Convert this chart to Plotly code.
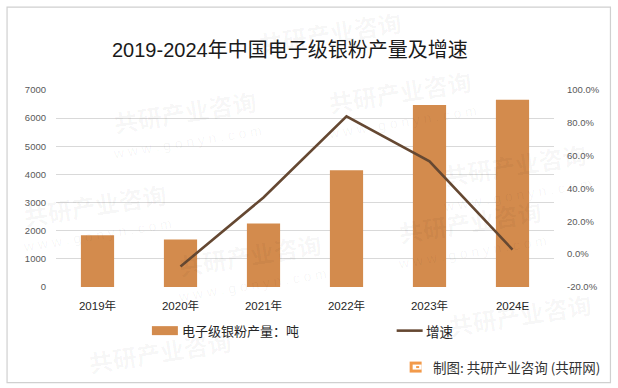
import plotly.graph_objects as go

categories = ["2019年", "2020年", "2021年", "2022年", "2023年", "2024E"]
output_tons = [1840, 1690, 2260, 4150, 6470, 6650]
growth_cats = ["2020年", "2021年", "2022年", "2023年", "2024E"]
growth_pct = [-7.5, 34.5, 84.0, 56.5, 2.8]
left_ticks = [0, 1000, 2000, 3000, 4000, 5000, 6000, 7000]
right_ticks = [-20, 0, 20, 40, 60, 80, 100]

W, H = 618, 388
BAR = "#D38B4D"
LINE = "#654832"
FONT = "Liberation Sans, Noto Sans CJK SC, sans-serif"
CJK = "Noto Sans CJK SC"

# plot area in pixel coords
PL, PR, PT, PB = 56, 554.5, 90, 287.3
l, t, r, b = PL, PT, W - PR, H - PB

fig = go.Figure()
fig.add_trace(go.Bar(x=categories, y=output_tons, marker=dict(color=BAR, line=dict(width=0)),
                     width=0.4, name="电子级银粉产量：吨", showlegend=False, yaxis="y"))
fig.add_trace(go.Scatter(x=growth_cats, y=growth_pct, mode="lines",
                         line=dict(color=LINE, width=2.6), name="增速", showlegend=False, yaxis="y2"))

fig.update_layout(
    width=W, height=H,
    margin=dict(l=l, r=r, t=t, b=b, pad=0),
    paper_bgcolor="white", plot_bgcolor="rgba(0,0,0,0)",
    font=dict(family=FONT, color="#595959"),
    xaxis=dict(type="category", categoryorder="array", categoryarray=categories,
               showgrid=False, showline=False, ticks="", zeroline=False,
               tickfont=dict(size=11.5, color="#262626"), ticklabelstandoff=10),
    yaxis=dict(range=[0, 7000], tickvals=left_ticks, showgrid=True, gridcolor="#D9D9D9",
               gridwidth=1, zeroline=False, showline=False, ticks="",
               tickfont=dict(size=9.5, color="#595959"), ticklabelstandoff=9),
    yaxis2=dict(range=[-20, 100], tickvals=right_ticks, overlaying="y", side="right",
                showgrid=False, zeroline=False, showline=False, ticks="",
                ticktext=[f"{v:.1f}%" for v in right_ticks],
                tickmode="array",
                tickfont=dict(size=9.5, color="#595959"), ticklabelstandoff=12),
    showlegend=False,
)


def px(x):
    return (x - l) / (W - l - r)


def py(y):
    return (H - b - y) / (H - t - b)


shapes = []
annotations = []

# outer frame
shapes.append(dict(type="rect", xref="paper", yref="paper",
                   x0=px(7), x1=px(611), y0=py(383), y1=py(7),
                   line=dict(color="#D0D0D0", width=1.2), fillcolor="rgba(0,0,0,0)", layer="above"))

# watermarks (pixel coords of text centre); (x, y, with_url)
wm = [(400, 92, True), (185, 112, True), (515, 165, True), (95, 205, True), (250, 255, True),
      (470, 222, True), (330, 32, False), (160, 352, False), (520, 315, False)]
for (x, y, url) in wm:
    annotations.append(dict(x=px(x), y=py(y), xref="paper", yref="paper", showarrow=False,
                            xanchor="center", yanchor="middle",
                            text="<b>共研产业咨询</b>", textangle=-9,
                            font=dict(size=24, color="rgba(0,0,0,0.04)", family=CJK)))
    if url:
        annotations.append(dict(x=px(x + 2), y=py(y + 30), xref="paper", yref="paper", showarrow=False,
                                xanchor="center", yanchor="middle",
                                text="w w w . g o n y n . c o m", textangle=-9,
                                font=dict(size=14, color="rgba(0,0,0,0.045)", family=FONT)))

# title
annotations.append(dict(x=px(290), y=py(50), xref="paper", yref="paper", showarrow=False,
                        xanchor="center", yanchor="middle",
                        text="2019-2024年中国电子级银粉产量及增速",
                        font=dict(size=20, color="#1a1a1a", family=FONT)))

# legend
shapes.append(dict(type="rect", xref="paper", yref="paper", x0=px(152), x1=px(178),
                   y0=py(335.5), y1=py(326.5), fillcolor=BAR, line=dict(width=0)))
annotations.append(dict(x=px(180), y=py(331), xref="paper", yref="paper", showarrow=False,
                        xanchor="left", yanchor="middle", text="电子级银粉产量：吨",
                        font=dict(size=13, color="#262626", family=CJK)))
shapes.append(dict(type="line", xref="paper", yref="paper", x0=px(397), x1=px(423),
                   y0=py(331), y1=py(331), line=dict(color=LINE, width=2.6)))
annotations.append(dict(x=px(424), y=py(331), xref="paper", yref="paper", showarrow=False,
                        xanchor="left", yanchor="middle", text="增速",
                        font=dict(size=13.5, color="#262626", family=CJK)))

# footer logo + source
shapes.append(dict(type="rect", xref="paper", yref="paper", x0=px(410), x1=px(422),
                   y0=py(373), y1=py(362), fillcolor="#F29A4A", line=dict(width=0)))
shapes.append(dict(type="rect", xref="paper", yref="paper", x0=px(413), x1=px(422),
                   y0=py(370), y1=py(365), fillcolor="white", line=dict(width=0)))
shapes.append(dict(type="rect", xref="paper", yref="paper", x0=px(416.5), x1=px(419.5),
                   y0=py(368.5), y1=py(366.5), fillcolor="#F29A4A", line=dict(width=0)))
annotations.append(dict(x=px(431), y=py(367), xref="paper", yref="paper", showarrow=False,
                        xanchor="left", yanchor="middle", text="制图: 共研产业咨询 (共研网)",
                        font=dict(size=13.5, color="#333333", family=CJK)))

fig.update_layout(shapes=shapes, annotations=annotations)
fig.write_html("out.html", config={"displayModeBar": False},
               post_script="document.body.style.margin='0';")
